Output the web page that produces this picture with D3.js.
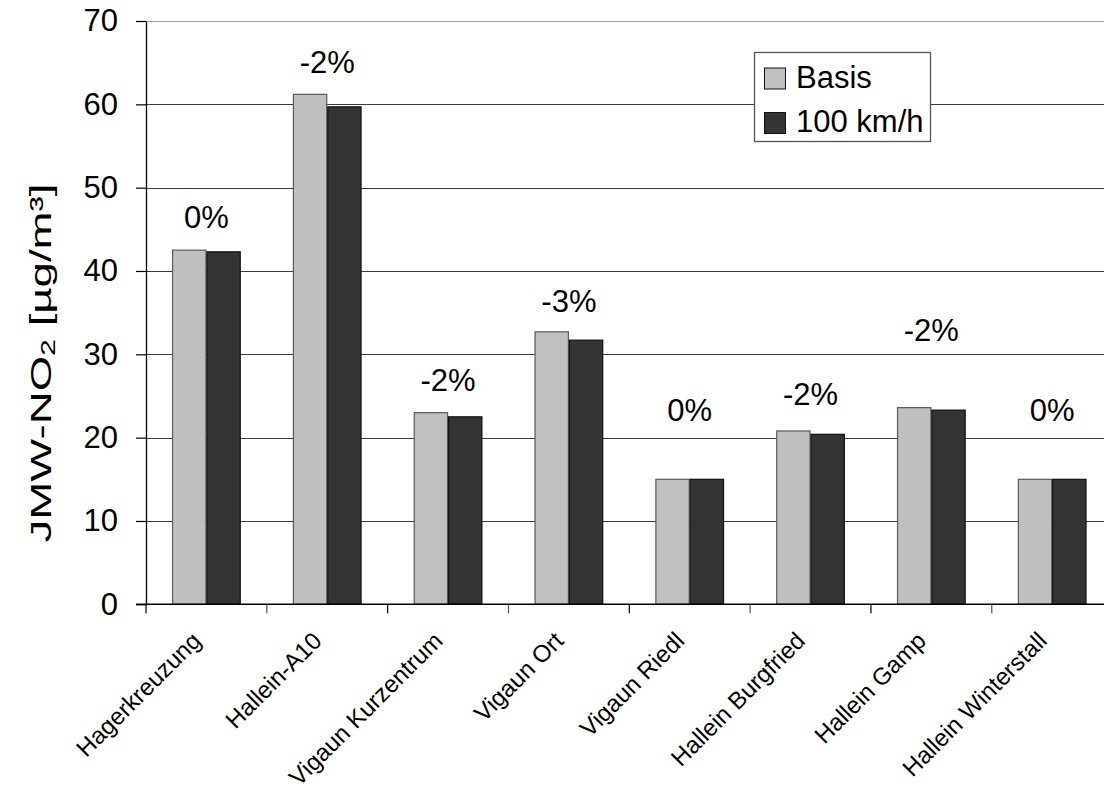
<!DOCTYPE html>
<html>
<head>
<meta charset="utf-8">
<script src="https://cdn.jsdelivr.net/npm/d3@7"></script>
<style>
  html, body { margin: 0; padding: 0; background: #fff; }
  svg { display: block; font-family: "Liberation Sans", Arial, sans-serif; }
</style>
</head>
<body>
<svg id="chart" width="1104" height="791"></svg>
<script>
// Annual mean NO2 per measuring site, base case vs. 100 km/h speed limit
const categories = ["Hagerkreuzung", "Hallein-A10", "Vigaun Kurzentrum", "Vigaun Ort",
                    "Vigaun Riedl", "Hallein Burgfried", "Hallein Gamp", "Hallein Winterstall"];
const series = ["Basis", "100 km/h"];
const basis   = [42.5, 61.2, 23.0, 32.7, 15.0, 20.8, 23.6, 15.0];
const limit100 = [42.3, 59.7, 22.5, 31.7, 15.0, 20.4, 23.3, 15.0];
const changeLabels = ["0%", "-2%", "-2%", "-3%", "0%", "-2%", "-2%", "0%"];
// height (in µg/m³) at which each change label sits
const changeLabelAt = [45.2, 63.8, 25.6, 35.1, 22.0, 23.9, 31.6, 22.0];
const yTicks = [0, 10, 20, 30, 40, 50, 60, 70];

const colors = { "Basis": "url(#basisFill)", "100 km/h": "#333333" };
const strokes = { "Basis": "#5a5a5a", "100 km/h": "#111111" };
const swatch = { "Basis": "#c0c0c0", "100 km/h": "#333333" };

const svg = d3.select("#chart");
const plotLeft = 146, plotRight = 1112.6, plotTop = 21, plotBottom = 604.3;

// Fine dither for the light bars
const defs = svg.append("defs");
const pat = defs.append("pattern").attr("id", "basisFill")
  .attr("patternUnits", "userSpaceOnUse").attr("width", 2).attr("height", 2);
pat.append("rect").attr("width", 2).attr("height", 2).attr("fill", "#c4c4c4");
pat.append("rect").attr("width", 1).attr("height", 1).attr("fill", "#b9b9b9");
pat.append("rect").attr("x", 1).attr("y", 1).attr("width", 1).attr("height", 1).attr("fill", "#bdbdbd");

const x0 = d3.scaleBand().domain(categories).range([plotLeft, plotRight]).padding(0);
const x1 = d3.scaleBand().domain(series).range([0, x0.bandwidth()])
  .paddingInner(0).paddingOuter(0.76);
const y = d3.scaleLinear().domain([0, 70]).range([plotBottom, plotTop]);

// Horizontal gridlines
svg.append("g").selectAll("line").data(yTicks.filter(d => d > 0)).join("line")
  .attr("x1", plotLeft).attr("x2", 1104)
  .attr("y1", d => Math.round(y(d)) + 0.5).attr("y2", d => Math.round(y(d)) + 0.5)
  .attr("stroke", d => d === 70 ? "#a0a0a0" : "#3c3c3c").attr("stroke-width", 1);

// Bars
const rows = categories.map((c, i) => ({ cat: c, vals: [
  { s: "Basis", v: basis[i] }, { s: "100 km/h", v: limit100[i] }] }));
const groups = svg.append("g").selectAll("g").data(rows).join("g")
  .attr("transform", d => `translate(${x0(d.cat)},0)`);
groups.selectAll("rect").data(d => d.vals).join("rect")
  .attr("x", d => x1(d.s) + 0.5)
  .attr("y", d => y(d.v))
  .attr("width", x1.bandwidth() - 1)
  .attr("height", d => plotBottom - y(d.v))
  .attr("fill", d => colors[d.s])
  .attr("stroke", d => strokes[d.s]).attr("stroke-width", 1.2);

// Change labels above each group
svg.append("g").selectAll("text").data(categories).join("text")
  .attr("x", d => x0(d) + x0.bandwidth() / 2)
  .attr("y", (d, i) => y(changeLabelAt[i]))
  .attr("text-anchor", "middle")
  .attr("font-size", 31).attr("fill", "#000")
  .text((d, i) => changeLabels[i]);

// Y axis
const yAxis = svg.append("g").attr("transform", `translate(${plotLeft},0)`)
  .call(d3.axisLeft(y).tickValues(yTicks).tickSize(10).tickPadding(18).tickSizeOuter(0));
yAxis.select(".domain").attr("stroke", "#000").attr("stroke-width", 1.3);
yAxis.selectAll(".tick line").attr("stroke", "#000").attr("stroke-width", 1.2);
yAxis.selectAll(".tick text").attr("font-size", 31).attr("fill", "#000")
  .attr("font-family", "Liberation Sans, Arial, sans-serif");

// X axis: baseline with ticks at category boundaries
svg.append("line").attr("x1", plotLeft - 10).attr("x2", 1104)
  .attr("y1", plotBottom).attr("y2", plotBottom).attr("stroke", "#000").attr("stroke-width", 1.5);
const bounds = categories.map(c => x0(c));
svg.append("g").selectAll("line").data(bounds).join("line")
  .attr("x1", d => d).attr("x2", d => d)
  .attr("y1", plotBottom).attr("y2", plotBottom + 9)
  .attr("stroke", (d, i) => i % 2 ? "#555" : "#000").attr("stroke-width", 1.2);

// Rotated category labels
svg.append("g").selectAll("text").data(categories).join("text")
  .attr("transform", d => `translate(${x0(d) + x0.bandwidth() / 2 - 4},${plotBottom + 38}) rotate(-45)`)
  .attr("text-anchor", "end")
  .attr("font-size", 24).attr("fill", "#000")
  .text(d => d);

// Y axis title (stretched along its length)
const yt = svg.append("text")
  .attr("transform", `translate(51,363) rotate(-90) scale(1.52,1)`)
  .attr("text-anchor", "middle")
  .attr("font-size", 30).attr("fill", "#000");
yt.append("tspan").text("JMW-NO");
yt.append("tspan").attr("font-size", 20).attr("dy", 4).text("2");
yt.append("tspan").attr("dy", -4).text(" [µg/m³]");

// Legend
const lg = svg.append("g").attr("transform", "translate(754.5,52.5)");
lg.append("rect").attr("width", 176).attr("height", 89)
  .attr("fill", "#fff").attr("stroke", "#555").attr("stroke-width", 1.3);
series.forEach((s, i) => {
  lg.append("rect").attr("x", 10).attr("y", 15.5 + i * 44.5).attr("width", 21).attr("height", 21)
    .attr("fill", s === "Basis" ? "url(#basisFill)" : swatch[s])
    .attr("stroke", "#111").attr("stroke-width", 1);
  lg.append("text").attr("x", 41.5).attr("y", 35.2 + i * 44)
    .attr("font-size", 31).attr("fill", "#000").text(s);
});
</script>
</body>
</html>
